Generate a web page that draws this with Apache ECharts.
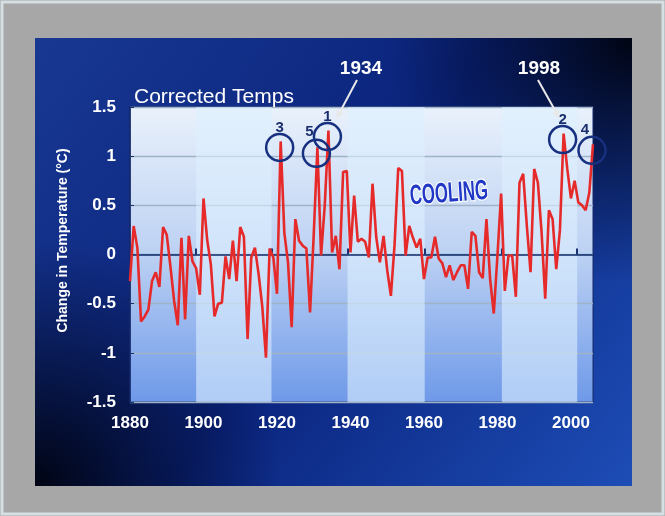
<!DOCTYPE html>
<html><head><meta charset="utf-8">
<script src="https://cdn.jsdelivr.net/npm/echarts@6/dist/echarts.min.js"></script>
<style>html,body{margin:0;padding:0;background:#a7a7a7}#c{width:665px;height:516px}</style>
</head><body><div id="c"></div>
<script>
// ---- data ----
const startYear = 1880;
const anomalies = [
 -0.27, 0.29, 0.07,-0.68,-0.63,-0.56,-0.27,-0.18,-0.33, 0.28,
  0.20,-0.12,-0.47,-0.72, 0.17,-0.66, 0.19,-0.07,-0.14,-0.41,
  0.57, 0.15,-0.10,-0.63,-0.50,-0.49,-0.02,-0.25, 0.14,-0.27,
  0.28, 0.18,-0.86,-0.03, 0.07,-0.20,-0.53,-1.05, 0.06,-0.03,
 -0.40, 1.15, 0.22,-0.08,-0.74, 0.36, 0.14, 0.09, 0.06,-0.59,
  0.20, 1.09,-0.01, 0.50, 1.26, 0.02, 0.19,-0.15, 0.84, 0.85,
  0.02, 0.60, 0.13, 0.16, 0.13,-0.03, 0.72, 0.18,-0.08, 0.19,
 -0.16,-0.42, 0.10, 0.88, 0.85,-0.01, 0.29, 0.17, 0.07, 0.16,
 -0.25,-0.03,-0.03, 0.18,-0.04,-0.09,-0.23,-0.11,-0.26,-0.18,
 -0.11,-0.11,-0.35, 0.23, 0.19,-0.18,-0.24, 0.36,-0.25,-0.60,
 -0.01, 0.62,-0.37,-0.01,-0.01,-0.43, 0.73, 0.82, 0.29,-0.18,
  0.87, 0.73, 0.23,-0.45, 0.45, 0.36,-0.15, 0.25, 1.23, 0.87,
  0.57, 0.75, 0.53, 0.50, 0.45, 0.63, 1.12
];
const xLabelYears = [1880, 1900, 1920, 1940, 1960, 1980, 2000];
const tickYears = [1898, 1918.5, 1939.2, 1960.2, 1981.2, 2001.7];
const rankYears = [1934, 1998, 1921, 2006, 1931];
const rankLabels = ['1', '2', '3', '4', '5'];
const calloutYears = [1934, 1998];
const titleText = 'Corrected Temps';
const yName = 'Change in Temperature (\u00B0C)';
const noteText = 'COOLING';

// ---- build ----
const seriesData = anomalies.map((v, i) => [startYear + i, v]);
const valueOf = y => anomalies[y - startYear];
const labelShift = {'4': [-7, -21], '5': [-7, -21]};
const markData = rankYears.map((y, i) => {
  const d = {name: rankLabels[i], coord: [y, valueOf(y)]};
  if (labelShift[rankLabels[i]]) d.label = {offset: labelShift[rankLabels[i]]};
  return d;
});

const W = 665, H = 516;
const chart = echarts.init(document.getElementById('c'), null, {renderer: 'canvas'});
const gridC = '#9fb2c6';
const FF = 'Liberation Sans, Arial';
const option = {
  animation: false,
  backgroundColor: '#a7a7a7',
  title: {
    text: titleText, left: 129, top: 82,
    textStyle: {color: '#ffffff', fontSize: 21, fontWeight: 'normal', fontFamily: FF}
  },
  grid: {
    left: 130, right: W - 593, top: 107, bottom: H - 402, show: true,
    borderColor: '#15286a', borderWidth: 1,
    backgroundColor: {type: 'linear', x: 0, y: 0, x2: 0, y2: 1, colorStops: [
      {offset: 0, color: '#e9f1fb'}, {offset: 0.5, color: '#bcd1f3'}, {offset: 1, color: '#6e99e9'}]}
  },
  xAxis: {
    type: 'value', min: 1880, max: 2006,
    axisLine: {show: true, lineStyle: {color: '#15286a', width: 1.5}},
    axisTick: {show: true, inside: true, length: 6, customValues: tickYears, lineStyle: {color: '#1a3270', width: 2}},
    axisLabel: {customValues: xLabelYears, formatter: v => String(v), color: '#ffffff', fontSize: 17,
      fontWeight: 'bold', fontFamily: FF, margin: 13},
    splitLine: {show: false},
    splitArea: {show: true, areaStyle: {color: ['rgba(222,240,255,0.6)', 'rgba(0,0,0,0)']}}
  },
  yAxis: {
    type: 'value', min: -1.5, max: 1.5, interval: 0.5,
    name: yName, nameLocation: 'middle', nameGap: 60, nameRotate: 90,
    nameTextStyle: {color: '#ffffff', fontSize: 14, fontWeight: 'bold', fontFamily: FF, padding: [0, 0, 0, 28]},
    axisLine: {show: true, lineStyle: {color: '#15286a', width: 1.5}},
    axisTick: {show: true, inside: true, length: 4, lineStyle: {color: '#1a3270'}},
    axisLabel: {color: '#ffffff', fontSize: 17, fontWeight: 'bold', fontFamily: FF, margin: 14},
    splitLine: {show: true, lineStyle: {color: [gridC, gridC, gridC, '#6fb3c4', gridC, gridC, gridC], width: 1.3}}
  },
  series: [{
    type: 'line', data: seriesData, showSymbol: false, z: 3,
    lineStyle: {color: '#e62a2a', width: 2.6},
    markPoint: {
      symbol: 'circle', symbolSize: 27, symbolOffset: [-1, 6], silent: true,
      itemStyle: {color: 'rgba(0,0,0,0)', borderColor: '#173080', borderWidth: 2.5},
      label: {show: true, position: 'inside', offset: [0, -20], formatter: '{b}',
        color: '#1b2f6e', fontSize: 15, fontWeight: 'bold', fontFamily: FF},
      data: markData
    }
  }],
  graphic: [
    {type: 'rect', z: -20, shape: {x: 2, y: 2, width: W - 4, height: H - 4},
      style: {fill: 'none', stroke: '#d6dfe3', lineWidth: 3}},
    {type: 'rect', z: -10, shape: {x: 35, y: 38, width: 597, height: 448},
      style: {fill: {type: 'linear', x: 0, y: 0, x2: 1, y2: 1, colorStops: [
        {offset: 0, color: '#183892'}, {offset: 0.5, color: '#0a237c'}, {offset: 1, color: '#1d4db6'}]},
        shadowBlur: 12, shadowOffsetX: 7, shadowOffsetY: 7, shadowColor: 'rgba(0,0,0,0.75)'}},
    {type: 'rect', z: -9, shape: {x: 35, y: 38, width: 597, height: 448},
      style: {fill: {type: 'radial', x: 1, y: 0, r: 0.55, colorStops: [
        {offset: 0, color: 'rgba(0,3,15,0.97)'}, {offset: 1, color: 'rgba(0,5,30,0)'}]}}},
    {type: 'rect', z: -9, shape: {x: 35, y: 38, width: 597, height: 448},
      style: {fill: {type: 'radial', x: 0, y: 1, r: 0.55, colorStops: [
        {offset: 0, color: 'rgba(0,3,15,0.97)'}, {offset: 1, color: 'rgba(0,5,30,0)'}]}}},
    {type: 'text', z: 10, x: 449, y: 194, rotation: 0.07, scaleX: 0.6,
      style: {text: noteText, fill: '#2138c6', stroke: '#ffffff', lineWidth: 2.5,
        font: 'bold 28px "Liberation Sans", Arial', align: 'center', verticalAlign: 'middle'}}
  ]
};
chart.setOption(option);

// callouts "1934" / "1998" with arrows to the peaks
const textPos = [[361, 69], [539, 69]];
const tipShift = [[8, -12], [-4, -15]];
const extra = [];
calloutYears.forEach((y, i) => {
  const p = chart.convertToPixel({gridIndex: 0}, [y, valueOf(y)]);
  const tx = p[0] + tipShift[i][0], ty = p[1] + tipShift[i][1];
  const sx = textPos[i][0] + (i === 0 ? -4 : -1), sy = textPos[i][1] + 11;
  const ang = Math.atan2(ty - sy, tx - sx);
  const L = 8, Wd = 4;
  const bx = tx - L * Math.cos(ang), by = ty - L * Math.sin(ang);
  extra.push({type: 'text', z: 10, x: textPos[i][0], y: textPos[i][1],
    style: {text: String(y), fill: '#ffffff', font: 'bold 19px "Liberation Sans", Arial', align: 'center', verticalAlign: 'middle'}});
  extra.push({type: 'line', z: 10, shape: {x1: sx, y1: sy, x2: bx, y2: by},
    style: {stroke: '#e8e8e8', lineWidth: 2}});
  extra.push({type: 'polygon', z: 10, shape: {points: [[tx, ty],
    [bx + Wd * Math.sin(ang), by - Wd * Math.cos(ang)], [bx - Wd * Math.sin(ang), by + Wd * Math.cos(ang)]]},
    style: {fill: '#e8e8e8'}});
});
chart.setOption({graphic: option.graphic.concat(extra)});
</script></body></html>
